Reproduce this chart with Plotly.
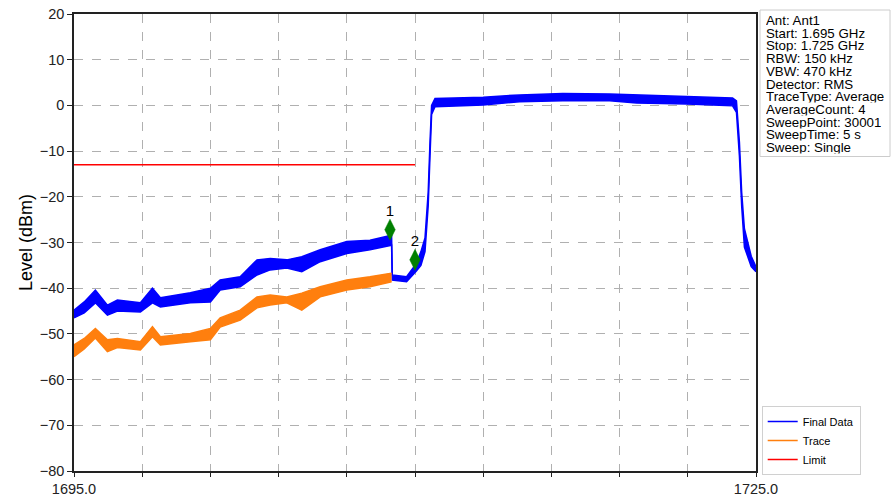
import plotly.graph_objects as go

# ---------------- data ----------------
fd_freq = [1695.0, 1695.45, 1695.94, 1696.47, 1696.91, 1697.92, 1698.45, 1698.80, 1700.12, 1701.0,
           1701.43, 1702.31, 1703.05, 1703.63, 1704.36, 1705.02, 1705.83, 1707.0, 1708.02, 1708.9,
           1708.97, 1709.0, 1709.63, 1710.07, 1710.26, 1710.44, 1710.58, 1710.66, 1710.73, 1710.88,
           1713.0, 1714.6, 1716.5, 1718.56, 1719.75, 1721.94, 1723.97, 1724.14, 1724.27, 1724.37,
           1724.49, 1724.79, 1725.0]
fd_top = [-44.8, -43.0, -40.4, -43.7, -42.6, -43.2, -40.0, -42.1, -41.0, -40.0,
          -38.2, -37.5, -33.8, -33.5, -33.8, -33.1, -31.6, -29.8, -29.5, -28.4,
          -28.4, -37.1, -37.5, -34.5, -32.0, -29.0, -19.0, -8.0, 0.0, 1.5,
          1.8, 2.3, 2.6, 2.5, 2.3, 1.9, 1.6, 1.0, -8.0, -19.0,
          -27.0, -33.0, -35.3]
fd_bottom = [-46.5, -45.4, -43.2, -45.9, -45.0, -45.2, -43.2, -44.1, -43.2, -43.0,
             -40.4, -39.7, -37.1, -36.0, -35.6, -36.4, -34.2, -32.4, -31.6, -30.6,
             -30.6, -38.2, -38.6, -36.2, -35.0, -32.0, -22.0, -11.0, -2.0, -0.3,
             0.1, 0.8, 1.0, 1.0, 0.5, 0.3, -0.1, -1.5, -11.0, -22.0,
             -31.0, -35.3, -36.4]

tr_freq = [1695.0, 1695.45, 1695.94, 1696.47, 1696.91, 1697.92, 1698.45, 1698.80, 1700.12, 1701.0,
           1701.43, 1702.31, 1703.05, 1703.63, 1704.36, 1705.02, 1705.83, 1707.0, 1708.02, 1708.97]
tr_top = [-52.4, -51.0, -48.8, -51.3, -51.0, -51.7, -48.4, -50.6, -49.9, -48.8,
          -46.5, -44.8, -41.9, -41.5, -41.9, -41.1, -39.7, -38.2, -37.5, -36.7]
tr_bottom = [-55.0, -53.3, -50.9, -53.9, -53.0, -53.5, -50.6, -52.4, -51.7, -51.3,
             -48.5, -47.0, -44.3, -43.7, -43.2, -44.8, -41.9, -40.4, -39.7, -38.6]

limit_freq = [1695.0, 1710.0]
limit_level = [-13.0, -13.0]

marker_freq = [1708.9, 1710.0]
marker_level = [-27.2, -33.8]
marker_labels = ["1", "2"]

x_tickvals = [1695, 1698, 1701, 1704, 1707, 1710, 1713, 1716, 1719, 1722, 1725]
x_ticktext = ["1695.0", "", "", "", "", "", "", "", "", "", "1725.0"]
y_tickvals = [-80, -70, -60, -50, -40, -30, -20, -10, 0, 10, 20]

info_lines = ["Ant: Ant1", "Start: 1.695 GHz", "Stop: 1.725 GHz", "RBW: 150 kHz", "VBW: 470 kHz",
              "Detector: RMS", "TraceType: Average", "AverageCount: 4", "SweepPoint: 30001",
              "SweepTime: 5 s", "Sweep: Single"]

BLUE = "#0000ff"
ORANGE = "#ff7f0e"
RED = "#ff0000"
GREEN = "#008000"
FONT = "Liberation Sans, Arial, sans-serif"

W, H = 891, 501
L, R, T, B = 74, 135, 14, 30
PW, PH = W - L - R, H - T - B

def px_x(p):
    return (p - L) / PW

def px_y(p):
    return (H - B - p) / PH

fig = go.Figure()

# Final Data band
fig.add_trace(go.Scatter(x=fd_freq, y=fd_bottom, mode="lines", line=dict(color=BLUE, width=1.5),
                         showlegend=False, hoverinfo="skip"))
fig.add_trace(go.Scatter(x=fd_freq, y=fd_top, mode="lines", line=dict(color=BLUE, width=1.5),
                         fill="tonexty", fillcolor=BLUE, showlegend=False, hoverinfo="skip"))
# Trace band
fig.add_trace(go.Scatter(x=tr_freq, y=tr_bottom, mode="lines", line=dict(color=ORANGE, width=1.5),
                         showlegend=False, hoverinfo="skip"))
fig.add_trace(go.Scatter(x=tr_freq, y=tr_top, mode="lines", line=dict(color=ORANGE, width=1.5),
                         fill="tonexty", fillcolor=ORANGE, showlegend=False, hoverinfo="skip"))
# Limit
fig.add_trace(go.Scatter(x=limit_freq, y=limit_level, mode="lines", line=dict(color=RED, width=1.5),
                         showlegend=False))
# Markers
fig.add_trace(go.Scatter(x=marker_freq, y=marker_level, mode="markers+text", text=marker_labels,
                         textposition="top center", textfont=dict(size=15, color="#000000", family=FONT),
                         marker=dict(symbol="diamond-tall", size=15, color=GREEN,
                                     line=dict(color=GREEN, width=0.5)),
                         showlegend=False))
# Legend entries
for name, col in [("Final Data", BLUE), ("Trace", ORANGE), ("Limit", RED)]:
    fig.add_trace(go.Scatter(x=[None], y=[None], mode="lines", name=name, line=dict(color=col, width=1.5)))

shapes = [dict(type="rect", xref="paper", yref="paper",
               x0=px_x(760), x1=px_x(890), y0=px_y(156.5), y1=px_y(10),
               line=dict(color="#cccccc", width=1), fillcolor="white", layer="above")]
annotations = []
for i, t in enumerate(info_lines):
    annotations.append(dict(xref="paper", yref="paper", x=px_x(764.5), y=px_y(20.5 + i * 12.7),
                            xanchor="left", yanchor="middle", text=t, showarrow=False,
                            height=12.5, borderpad=0, valign="middle",
                            font=dict(size=13.3, color="#000000", family=FONT)))

fig.update_layout(
    width=W, height=H,
    margin=dict(l=L, r=R, t=T, b=B, autoexpand=False),
    paper_bgcolor="white", plot_bgcolor="white",
    font=dict(family=FONT, color="#000000"),
    shapes=shapes, annotations=annotations,
    legend=dict(x=px_x(761.7), y=px_y(475), xanchor="left", yanchor="bottom",
                bgcolor="white", bordercolor="#d0d0d0", borderwidth=1,
                font=dict(size=11, family=FONT, color="#000000"),
                traceorder="normal", tracegroupgap=0, itemwidth=30),
)
fig.update_xaxes(range=[1695, 1725], tickvals=x_tickvals, ticktext=x_ticktext, automargin=False,
                 showgrid=True, gridcolor="#b0b0b0", griddash="dash", gridwidth=0.8,
                 showline=True, linecolor="#222222", linewidth=1.5, mirror=True,
                 ticks="outside", ticklen=4, tickcolor="#222222", tickwidth=1.2,
                 tickfont=dict(size=14.5, color="#222222", family=FONT), zeroline=False)
fig.update_yaxes(range=[-80, 20], tickvals=y_tickvals, automargin=False,
                 showgrid=True, gridcolor="#b0b0b0", griddash="dash", gridwidth=0.8,
                 showline=True, linecolor="#222222", linewidth=1.5, mirror=True,
                 ticks="outside", ticklen=5, tickcolor="#222222", tickwidth=1.2,
                 tickfont=dict(size=14.5, color="#222222", family=FONT), zeroline=False,
                 title=dict(text="Level (dBm)", font=dict(size=18, color="#000000", family=FONT),
                            standoff=2))

fig.write_html("out.html", config={"displayModeBar": False},
               post_script="document.body.style.margin='0';document.body.style.padding='0';")
